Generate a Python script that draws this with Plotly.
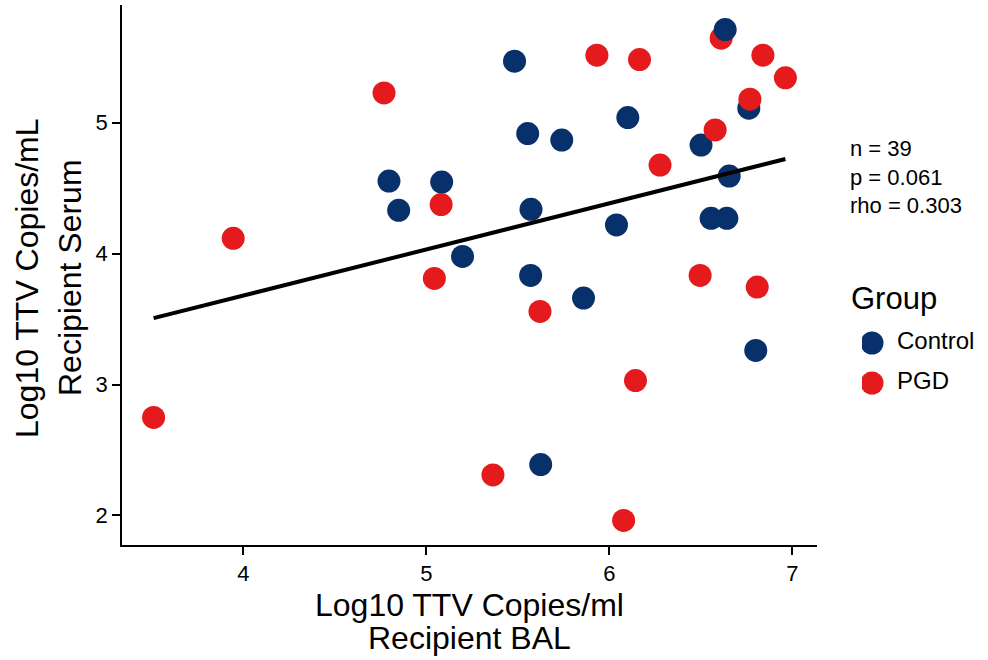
import numpy as np
import plotly.graph_objects as go

# Data: Log10 TTV BAL vs Serum
bal = [5.482, 6.101, 5.554, 5.740, 6.501, 6.762, 6.655, 6.556, 6.642, 6.039,
       5.572, 5.570, 5.859, 5.625, 6.800, 4.796, 4.849, 5.084, 5.198,
       4.769, 3.945, 5.081, 5.044, 5.932, 6.165, 6.611, 6.839, 6.962, 6.768,
       6.578, 6.277, 6.496, 6.808, 5.621, 6.143, 5.364, 6.078, 3.510,
       6.633]
serum = [5.470, 5.040, 4.917, 4.868, 4.830, 5.111, 4.593, 4.270, 4.270, 4.219,
         4.339, 3.834, 3.661, 2.389, 3.261, 4.555, 4.331, 4.547, 3.979,
         5.228, 4.117, 4.375, 3.811, 5.516, 5.483, 5.646, 5.516, 5.343, 5.180,
         4.945, 4.677, 3.834, 3.745, 3.559, 3.031, 2.310, 1.962, 2.749,
         5.712]
group = ["Control"] * 19 + ["PGD"] * 19 + ["Control"]

groups = ["Control", "PGD"]
colors = {"Control": "#08306B", "PGD": "#E41A1C"}
stats_text = ["n = 39", "p = 0.061", "rho = 0.303"]
x_title = ["Log10 TTV Copies/ml", "Recipient BAL"]
y_title = ["Log10 TTV Copies/mL", "Recipient Serum"]
x_ticks = [4, 5, 6, 7]
y_ticks = [2, 3, 4, 5]

W, H = 988, 660
font = "Liberation Sans, Arial, sans-serif"

x = np.array(bal)
y = np.array(serum)
slope, intercept = np.polyfit(x, y, 1)
xl = np.array([x.min(), x.max()])
yl = slope * xl + intercept

fig = go.Figure()
# main scatter (single trace keeps the original overlap order)
fig.add_trace(go.Scatter(
    x=bal, y=serum, mode="markers", showlegend=False,
    marker=dict(size=23, color=[colors[g] for g in group], line=dict(width=0)),
))
# linear fit
fig.add_trace(go.Scatter(x=xl, y=yl, mode="lines", showlegend=False,
                         line=dict(color="black", width=4)))
# legend drawn on a small auxiliary axis pair (full-size keys)
fig.add_trace(go.Scatter(
    x=[0] * len(groups), y=groups, mode="markers", showlegend=False,
    marker=dict(size=23, color=[colors[g] for g in groups], line=dict(width=0)),
    xaxis="x2", yaxis="y2", hoverinfo="skip",
))
fig.add_trace(go.Scatter(
    x=[2.5] * len(groups), y=groups, mode="text", text=groups,
    textposition="middle right", showlegend=False,
    textfont=dict(size=24, color="black", family=font),
    xaxis="x2", yaxis="y2", hoverinfo="skip",
))

pad_x = 0.05 * (x.max() - x.min())
pad_y = 0.05 * (y.max() - y.min())

axis_common = dict(
    showgrid=False, zeroline=False, showline=True, linecolor="black",
    linewidth=1.5, ticks="outside", ticklen=8, tickwidth=1.5,
    tickcolor="black", tickfont=dict(size=22, color="black"),
)

annotations = [
    dict(text="<br>".join(stats_text), xref="paper", yref="paper",
         x=848 / W, y=1 - 134 / H, xanchor="left", yanchor="top",
         align="left", showarrow=False, font=dict(size=22, color="black")),
    dict(text="Group", xref="paper", yref="paper",
         x=849 / W, y=1 - 298 / H, xanchor="left", yanchor="middle",
         showarrow=False, font=dict(size=31, color="black")),
]
for i, (t, cy) in enumerate(zip(x_title, [605, 638])):
    annotations.append(dict(
        text=t, xref="paper", yref="paper", x=469.5 / W, y=1 - cy / H,
        xanchor="center", yanchor="middle", showarrow=False,
        font=dict(size=32, color="black")))
for i, (t, cx) in enumerate(zip(y_title, [27, 70])):
    annotations.append(dict(
        text=t, xref="paper", yref="paper", x=cx / W, y=1 - 278 / H,
        xanchor="center", yanchor="middle", textangle=-90, showarrow=False,
        font=dict(size=32, color="black")))

fig.update_layout(
    width=W, height=H,
    margin=dict(l=0, r=0, t=0, b=0),
    paper_bgcolor="white", plot_bgcolor="white",
    font=dict(family=font, color="black"),
    showlegend=False,
    xaxis=dict(
        domain=[122 / W, 817 / W],
        range=[x.min() - pad_x, x.max() + pad_x], tickvals=x_ticks,
        **axis_common,
    ),
    yaxis=dict(
        domain=[(H - 545) / H, (H - 5) / H],
        range=[y.min() - pad_y, y.max() + pad_y], tickvals=y_ticks,
        **axis_common,
    ),
    xaxis2=dict(domain=[862 / W, 982 / W], range=[-1, 11], visible=False,
                anchor="y2", fixedrange=True),
    yaxis2=dict(domain=[(H - 403) / H, (H - 323) / H], range=[-0.5, 1.5],
                type="category", categoryarray=groups[::-1],
                categoryorder="array", visible=False, anchor="x2",
                fixedrange=True),
    annotations=annotations,
)

fig.write_html("out.html", config={"displayModeBar": False},
               post_script="document.body.style.margin='0px';")
